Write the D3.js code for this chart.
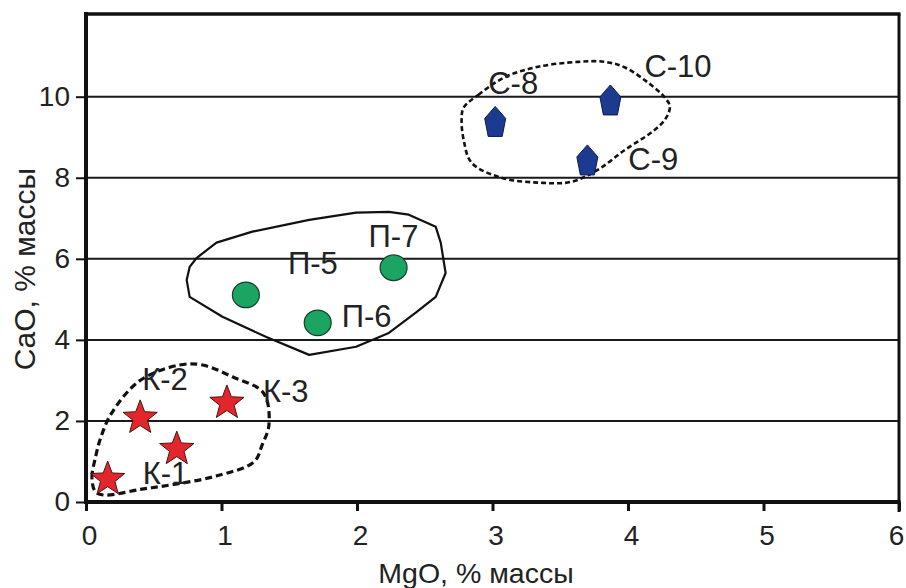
<!DOCTYPE html>
<html><head><meta charset="utf-8">
<script src="https://cdn.jsdelivr.net/npm/d3@7"></script>
<style>html,body{margin:0;padding:0;background:#fff;}svg{display:block;}</style>
</head><body>
<script>
// ---------- data ----------
const xTicks = [0, 1, 2, 3, 4, 5, 6];
const yTicks = [0, 2, 4, 6, 8, 10];
const xTitle = "MgO, % массы";
const yTitle = "CaO, % массы";

// group К (stars)
const kMgO = [0.16, 0.40, 0.67, 1.04];
const kCaO = [0.59, 2.10, 1.33, 2.47];
const kNames = ["К-1", "К-2", null, "К-3"];
// group П (circles)
const pMgO = [1.18, 1.71, 2.27];
const pCaO = [5.11, 4.42, 5.78];
const pNames = ["П-5", "П-6", "П-7"];
// group С (pentagons)
const sMgO = [3.02, 3.87, 3.70];
const sCaO = [9.39, 9.92, 8.44];
const sNames = ["С-8", "С-10", "С-9"];

// field outlines (MgO, CaO)
const kField = [[0.07,0.25],[0.044,0.6],[0.07,1.1],[0.11,1.6],[0.19,2.2],[0.40,3.0],[0.69,3.38],[0.86,3.38],[1.08,3.09],[1.31,2.69],[1.35,1.90],[1.30,1.41],[1.24,0.99],[0.96,0.64],[0.66,0.44],[0.40,0.31],[0.14,0.17]];
const pField = [[0.765,5.80],[0.816,6.02],[0.963,6.40],[1.228,6.67],[1.647,6.96],[1.993,7.14],[2.235,7.16],[2.382,7.09],[2.581,6.79],[2.618,6.40],[2.654,5.65],[2.581,5.06],[2.434,4.67],[2.235,4.17],[1.993,3.83],[1.647,3.63],[1.331,4.07],[1.007,4.57],[0.765,5.06],[0.743,5.48]];
const sField = [[2.787,9.73],[2.897,10.05],[3.096,10.49],[3.338,10.74],[3.632,10.86],[3.831,10.86],[3.978,10.72],[4.147,10.35],[4.272,9.98],[4.309,9.75],[4.272,9.43],[4.169,9.11],[3.978,8.69],[3.779,8.20],[3.581,7.90],[3.338,7.88],[3.066,8.00],[2.846,8.37],[2.787,8.94],[2.772,9.43]];

// ---------- layout ----------
const W = 906, H = 588;
const L = 86, R = 899, T = 14, B = 502;
const labelOff = {
  "К-1":[35,6], "К-2":[2,-27], "К-3":[36,0],
  "П-5":[42,-21], "П-6":[24,4], "П-7":[-25,-21],
  "С-8":[-7,-27], "С-10":[34,-23], "С-9":[41,10]
};
const FONT = "'Liberation Sans', Arial, sans-serif";

const svg = d3.select("body").append("svg").attr("width", W).attr("height", H)
  .style("font-family", FONT);

const x = d3.scaleLinear().domain([0, 6]).range([L, R]);
const y = d3.scaleLinear().domain([0, 12]).range([B, B - (B - 96.7) * 12 / 10]);

// gridlines
svg.append("g").selectAll("line").data(yTicks.filter(d => d > 0)).join("line")
  .attr("x1", L).attr("x2", R).attr("y1", d => y(d)).attr("y2", d => y(d))
  .attr("stroke", "#1a1a1a").attr("stroke-width", 2);

// axes
const xAxis = d3.axisBottom(x).tickValues(xTicks).tickSize(9).tickPadding(14).tickFormat(d3.format("d"));
const gx = svg.append("g").attr("transform", `translate(0,${B})`).call(xAxis);
gx.select(".domain").remove();
gx.selectAll(".tick line").attr("stroke", "#111").attr("stroke-width", 3);
gx.selectAll(".tick text").attr("font-size", 28).attr("fill", "#222").attr("font-family", FONT)
  .attr("dx", d => d === 6 ? -3 : 3);

const yAxis = d3.axisLeft(y).tickValues(yTicks).tickSize(10).tickPadding(6).tickFormat(d3.format("d"));
const gy = svg.append("g").attr("transform", `translate(${L},0)`).call(yAxis);
gy.select(".domain").remove();
gy.selectAll(".tick line").attr("stroke", "#111").attr("stroke-width", 2);
gy.selectAll(".tick text").attr("font-size", 28).attr("fill", "#222").attr("font-family", FONT);

// frame
svg.append("line").attr("x1", L).attr("x2", L).attr("y1", T - 2).attr("y2", B + 2).attr("stroke", "#111").attr("stroke-width", 4);
svg.append("line").attr("x1", L - 2).attr("x2", R + 1.5).attr("y1", B).attr("y2", B).attr("stroke", "#111").attr("stroke-width", 4);
svg.append("line").attr("x1", L - 2).attr("x2", R + 1.5).attr("y1", T).attr("y2", T).attr("stroke", "#111").attr("stroke-width", 3.5);
svg.append("line").attr("x1", R).attr("x2", R).attr("y1", T).attr("y2", B + 10).attr("stroke", "#111").attr("stroke-width", 3);

// field outlines
const smooth = d3.line().x(d => x(d[0])).y(d => y(d[1])).curve(d3.curveCatmullRomClosed.alpha(0.5));
const straight = d3.line().x(d => x(d[0])).y(d => y(d[1])).curve(d3.curveLinearClosed);
svg.append("path").attr("d", smooth(kField)).attr("fill", "none").attr("stroke", "#111")
  .attr("stroke-width", 3.2).attr("stroke-dasharray", "7,4");
svg.append("path").attr("d", straight(pField)).attr("fill", "none").attr("stroke", "#111")
  .attr("stroke-width", 2.2).attr("stroke-linejoin", "round");
svg.append("path").attr("d", smooth(sField)).attr("fill", "none").attr("stroke", "#111")
  .attr("stroke-width", 2.6).attr("stroke-dasharray", "5,3");

// markers
function starPath(Ro, Ri) {
  const pts = [];
  for (let i = 0; i < 10; i++) {
    const a = -Math.PI / 2 + i * Math.PI / 5;
    const r = i % 2 === 0 ? Ro : Ri;
    pts.push([r * Math.cos(a), r * Math.sin(a)]);
  }
  return "M" + pts.map(p => p.join(",")).join("L") + "Z";
}
const pentPath = "M0,-15L10.5,-3L7,15L-7,15L-10.5,-3Z";

const kData = kMgO.map((v, i) => ({ mx: v, cy: kCaO[i], name: kNames[i] }));
const pData = pMgO.map((v, i) => ({ mx: v, cy: pCaO[i], name: pNames[i] }));
const sData = sMgO.map((v, i) => ({ mx: v, cy: sCaO[i], name: sNames[i] }));

svg.append("g").selectAll("path").data(kData).join("path")
  .attr("transform", d => `translate(${x(d.mx)},${y(d.cy) + 1})`)
  .attr("d", starPath(18, 7.6)).attr("fill", "#e3262b").attr("stroke", "#4a1414").attr("stroke-width", 1);

svg.append("g").selectAll("ellipse").data(pData).join("ellipse")
  .attr("cx", d => x(d.mx)).attr("cy", d => y(d.cy)).attr("rx", 13.5).attr("ry", 12.8)
  .attr("fill", "#1ca463").attr("stroke", "#17402a").attr("stroke-width", 1.2);

svg.append("g").selectAll("path").data(sData).join("path")
  .attr("transform", d => `translate(${x(d.mx)},${y(d.cy)})`)
  .attr("d", pentPath).attr("fill", "#1d3a91").attr("stroke", "#0e1c4a").attr("stroke-width", 1);

// point labels
const allPts = kData.concat(pData, sData).filter(d => d.name);
svg.append("g").selectAll("text").data(allPts).join("text")
  .attr("x", d => x(d.mx) + labelOff[d.name][0])
  .attr("y", d => y(d.cy) + labelOff[d.name][1])
  .attr("font-size", 31).attr("fill", "#222").text(d => d.name);

// axis titles
svg.append("text").attr("x", 476).attr("y", 583).attr("text-anchor", "middle")
  .attr("font-size", 28.5).attr("fill", "#222").text(xTitle);
svg.append("text").attr("transform", "translate(35,269) rotate(-90)").attr("text-anchor", "middle")
  .attr("font-size", 30).attr("fill", "#222").text(yTitle);
</script>
</body></html>
